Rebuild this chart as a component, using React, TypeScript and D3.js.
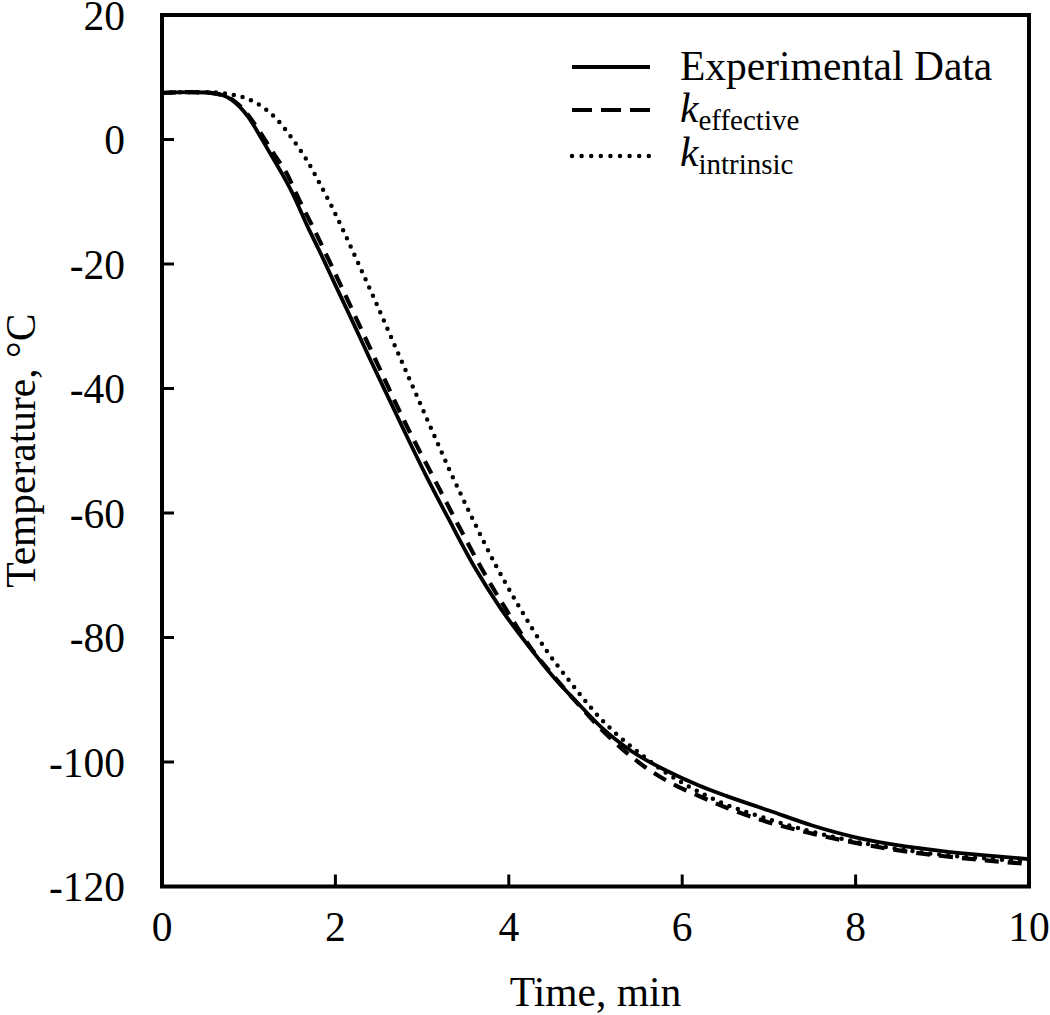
import React from "react";
import * as d3 from "d3";

const xTicks = [0, 2, 4, 6, 8, 10];
const yTicks = [20, 0, -20, -40, -60, -80, -100, -120];

const expTime = [0, 0.3, 0.5, 0.6, 0.7, 0.8, 0.9, 1.0, 1.1, 1.2, 1.36, 1.5, 1.68, 1.85, 2.0, 2.2, 2.4, 2.65, 2.78, 3.06, 3.3, 3.61, 3.9, 4.24, 4.53, 4.8, 5.05, 5.43, 5.82, 6.2, 6.5, 7.0, 7.5, 8.0, 8.5, 9.0, 9.5, 10];
const expTemp = [7.5, 7.6, 7.55, 7.4, 7.1, 6.4, 5.2, 3.5, 1.3, -1.1, -4.9, -8.5, -14.0, -18.9, -23.4, -29.3, -35.3, -42.6, -46.4, -54.4, -60.8, -68.8, -75.2, -81.6, -86.6, -90.6, -94.2, -98.4, -101.4, -103.8, -105.4, -107.8, -110.2, -112.1, -113.4, -114.3, -115.0, -115.6];

const effTime = [0, 0.3, 0.5, 0.6, 0.7, 0.8, 0.9, 1.0, 1.1, 1.2, 1.3, 1.42, 1.6, 1.76, 2.0, 2.4, 2.84, 3.15, 3.4, 3.69, 4.0, 4.25, 4.53, 4.8, 5.05, 5.3, 5.55, 5.86, 6.2, 6.52, 7.0, 7.5, 8.0, 8.5, 9.0, 9.5, 10];
const effTemp = [7.5, 7.6, 7.55, 7.4, 7.1, 6.5, 5.4, 3.8, 1.8, -0.3, -2.5, -5.0, -10.2, -14.6, -21.6, -33.5, -46.5, -54.8, -61.5, -69.0, -76.2, -81.6, -86.4, -90.7, -94.5, -97.8, -100.6, -103.3, -105.5, -107.4, -109.7, -111.5, -113.0, -114.2, -115.1, -115.8, -116.4];

const intTime = [0, 0.4, 0.6, 0.7, 0.85, 1.01, 1.13, 1.21, 1.36, 1.53, 1.67, 1.82, 1.97, 2.09, 2.3, 2.5, 2.7, 2.94, 3.11, 3.32, 3.55, 3.85, 4.1, 4.44, 4.65, 4.86, 5.05, 5.25, 5.5, 5.8, 6.06, 6.5, 7.0, 7.5, 8.0, 8.5, 9.0, 9.5, 10];
const intTemp = [7.5, 7.6, 7.55, 7.45, 7.1, 6.4, 5.5, 4.7, 2.7, -0.4, -3.3, -7.1, -11.1, -14.6, -21.0, -27.2, -33.6, -41.2, -46.6, -53.2, -60.0, -68.4, -74.6, -82.2, -86.1, -89.8, -92.9, -95.6, -98.5, -101.6, -103.8, -106.8, -109.2, -111.2, -112.8, -114.0, -114.9, -115.5, -116.0];

const W = 1050;
const H = 1015;
const left = 162;
const right = 1029;
const top = 15;
const bottom = 886.5;
const FONT = "'Liberation Serif', 'Times New Roman', serif";
const FS = 41.5;

export default function App() {
  const x = d3.scaleLinear().domain([0, 10]).range([left, right]);
  const y = d3.scaleLinear().domain([-120, 20]).range([bottom, top]);
  const line = d3
    .line<[number, number]>()
    .x((d) => x(d[0]))
    .y((d) => y(d[1]))
    .curve(d3.curveMonotoneX);
  const zip = (a: number[], b: number[]) => a.map((v, i) => [v, b[i]] as [number, number]);

  const legendRows = [
    { y: 67, dash: undefined as string | undefined, width: 3.8, cap: "butt" },
    { y: 110, dash: "20 9", width: 4.2, cap: "butt" },
    { y: 156, dash: "0 9.6", width: 4.5, cap: "round" },
  ];

  return (
    <svg width={W} height={H} style={{ position: "absolute", left: 0, top: 0, background: "#fff" }} fontFamily={FONT}>
      <rect x={0} y={0} width={W} height={H} fill="#fff" />
      <defs>
        <clipPath id="plotclip">
          <rect x={left} y={top} width={right - left} height={bottom - top} />
        </clipPath>
      </defs>
      <g clipPath="url(#plotclip)" fill="none" stroke="#000">
        <path d={line(zip(expTime, expTemp)) || ""} strokeWidth={3.8} />
        <path d={line(zip(effTime, effTemp)) || ""} strokeWidth={4.2} strokeDasharray="14 9" />
        <path d={line(zip(intTime, intTemp)) || ""} strokeWidth={4.5} strokeDasharray="0 9" strokeLinecap="round" />
      </g>
      {xTicks.map((t) => (
        <g key={"x" + t}>
          <line x1={x(t)} x2={x(t)} y1={bottom} y2={bottom - 12} stroke="#000" strokeWidth={3} />
          <text x={x(t)} y={941} textAnchor="middle" fontSize={FS}>
            {t}
          </text>
        </g>
      ))}
      {yTicks.map((t) => (
        <g key={"y" + t}>
          <line x1={left} x2={left + 12} y1={y(t)} y2={y(t)} stroke="#000" strokeWidth={3} />
          <text x={125} y={y(t)} dy="0.35em" textAnchor="end" fontSize={FS}>
            {t}
          </text>
        </g>
      ))}
      <rect x={left} y={top} width={right - left} height={bottom - top} fill="none" stroke="#000" strokeWidth={4} />
      <text x={(left + right) / 2} y={1006} textAnchor="middle" fontSize={FS}>
        Time, min
      </text>
      <text transform={`translate(35, ${(top + bottom) / 2}) rotate(-90)`} textAnchor="middle" fontSize={FS}>
        Temperature, °C
      </text>
      <g>
        {legendRows.map((r, i) => (
          <line key={i} x1={572} x2={650} y1={r.y} y2={r.y} stroke="#000" strokeWidth={r.width} strokeDasharray={r.dash} strokeLinecap={r.cap as any} />
        ))}
        <text x={680} y={80} fontSize={FS}>
          Experimental Data
        </text>
        <text x={680} y={122} fontSize={FS}>
          <tspan fontStyle="italic">k</tspan>
          <tspan fontSize={29} dy={8}>effective</tspan>
        </text>
        <text x={680} y={166} fontSize={FS}>
          <tspan fontStyle="italic">k</tspan>
          <tspan fontSize={29} dy={8}>intrinsic</tspan>
        </text>
      </g>
    </svg>
  );
}
